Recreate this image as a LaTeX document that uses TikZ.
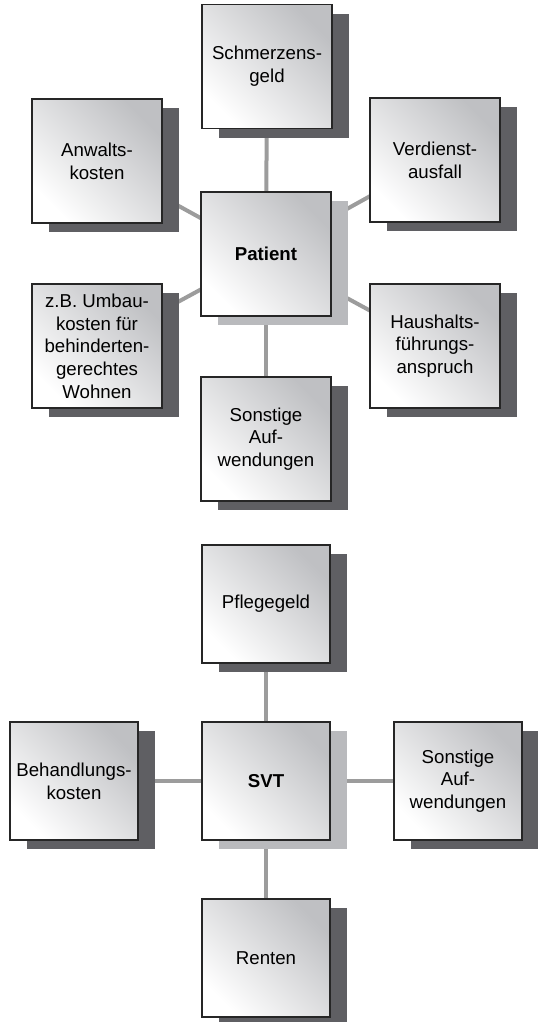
\documentclass[tikz,border=0pt]{standalone}
\usepackage{fontspec}
\setmainfont{Liberation Sans}
\usetikzlibrary{shadows}

\definecolor{kastengrau}{HTML}{BFC0C3}
\definecolor{schattendunkel}{HTML}{5F5F63}
\definecolor{schattenhell}{HTML}{B9BABD}
\definecolor{liniengrau}{HTML}{9C9C9C}

\tikzset{
  kasten/.style={draw=black!85, line width=1.1pt, inner sep=0pt,
    minimum width=97.5pt, minimum height=93pt, align=center,
    font=\fontsize{14}{17}\selectfont,
    bottom color=white, top color=kastengrau, shading angle=-45,
    drop shadow={shadow xshift=12.75pt, shadow yshift=-6.75pt,
      fill=schattendunkel, opacity=1}},
  kastenklein/.style={kasten, minimum width=96pt, minimum height=88.5pt},
  zentrum/.style={font=\fontsize{14}{17}\selectfont\bfseries,
    drop shadow={shadow xshift=12.75pt, shadow yshift=-6.75pt,
      fill=schattenhell, opacity=1}},
  verbindung/.style={draw=liniengrau, line width=3pt}
}

\begin{document}
\begin{tikzpicture}[x=0.75pt, y=-0.75pt]
    \useasboundingbox (0,0) rectangle (537,1022);

    % Verbindungen zuerst (liegen hinter den Kaesten)
    \coordinate (p) at (266,254);
    \coordinate (s) at (266,781);
    \foreach \x/\y in {267/66.5, 97/161, 435/160, 97/346, 435/346, 266/439}
        \draw[verbindung] (p) -- (\x,\y);
    \foreach \x/\y in {266/604, 74/781, 458/781, 266/958}
        \draw[verbindung] (s) -- (\x,\y);

    % Oberer Teil: Patient
    \node[kasten] (schmerz)   at (267,66.5) {Schmerzens-\\geld};
    \node[kasten] (anwalt)    at (97,161)   {Anwalts-\\kosten};
    \node[kasten] (verdienst) at (435,160)  {Verdienst-\\ausfall};
    \node[kasten, zentrum] (patient) at (p) {Patient};
    \node[kasten] (umbau)     at (97,346)   {z.B. Umbau-\\kosten f\"ur\\behinderten-\\gerechtes\\Wohnen};
    \node[kasten] (haushalt)  at (435,346)  {Haushalts-\\f\"uhrungs-\\anspruch};
    \node[kasten] (sonstigea) at (266,439)  {Sonstige\\Auf-\\wendungen};

    % Unterer Teil: SVT
    \node[kastenklein] (pflege)     at (266,604) {Pflegegeld};
    \node[kastenklein] (behandlung) at (74,781)  {Behandlungs-\\kosten};
    \node[kastenklein, zentrum] (svt) at (s)     {SVT};
    \node[kastenklein] (sonstigeb)  at (458,781) {Sonstige\\Auf-\\wendungen};
    \node[kastenklein] (renten)     at (266,958) {Renten};

\end{tikzpicture}
\end{document}
